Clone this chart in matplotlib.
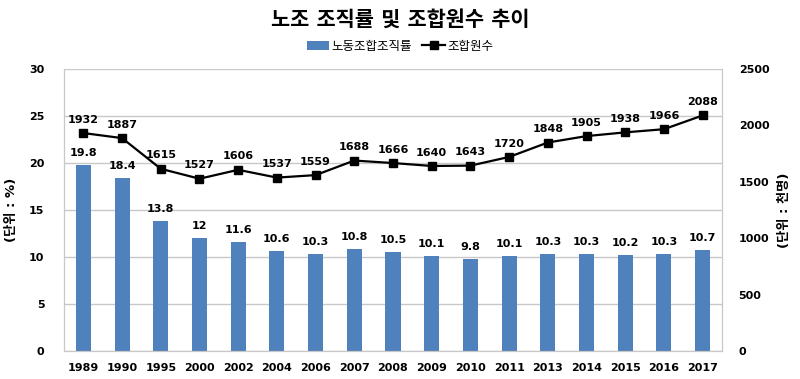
import matplotlib
matplotlib.use("Agg")
from matplotlib import pyplot as plt
import numpy as np

plt.rcParams['font.family'] = ['DejaVu Sans', 'Noto Sans CJK KR']

years = ['1989', '1990', '1995', '2000', '2002', '2004', '2006', '2007', '2008',
         '2009', '2010', '2011', '2013', '2014', '2015', '2016', '2017']
rate = [19.8, 18.4, 13.8, 12, 11.6, 10.6, 10.3, 10.8, 10.5,
        10.1, 9.8, 10.1, 10.3, 10.3, 10.2, 10.3, 10.7]
members = [1932, 1887, 1615, 1527, 1606, 1537, 1559, 1688, 1666,
           1640, 1643, 1720, 1848, 1905, 1938, 1966, 2088]

x = np.arange(len(years))
fig = plt.figure(figsize=(8, 3.79), dpi=100)
ax = fig.add_axes([0.08, 0.074, 0.8225, 0.744])
ax2 = ax.twinx()

bars = ax.bar(x, rate, width=0.39, color='#4F81BD', label='노동조합조직률', zorder=2)
line, = ax2.plot(x, members, color='black', marker='s', markersize=6, linewidth=1.6,
                 label='조합원수', zorder=3)

ax.set_ylim(0, 30)
ax.set_yticks(range(0, 31, 5))
ax2.set_ylim(0, 2500)
ax2.set_yticks(range(0, 2501, 500))
ax.set_xlim(-0.5, len(years) - 0.5)
ax.set_xticks(x)
ax.set_xticklabels(years)

ax.grid(axis='y', color='#c8c8c8', linewidth=1, zorder=0)
ax.set_axisbelow(True)
for a in (ax, ax2):
    for s in ('left', 'right', 'bottom'):
        a.spines[s].set_color('#c8c8c8')
    a.spines['top'].set_visible(False)
    a.tick_params(length=0, labelsize=8, pad=9)
    for lbl in a.get_xticklabels() + a.get_yticklabels():
        lbl.set_fontweight('bold')
ax.tick_params(axis='y', pad=14)
ax2.tick_params(axis='y', pad=12)

for xi, v in zip(x, rate):
    ax.annotate(f'{v:g}', (xi, v), xytext=(0, 5), textcoords='offset points',
                ha='center', va='bottom', fontsize=8, fontweight='bold')
for xi, v in zip(x, members):
    ax2.annotate(str(v), (xi, v), xytext=(0, 6), textcoords='offset points',
                 ha='center', va='bottom', fontsize=8, fontweight='bold')

ax.set_ylabel('(단위 : %)', fontsize=9.5, fontweight='bold', labelpad=8)
ax2.set_ylabel('(단위 : 천명)', fontsize=9.5, fontweight='bold', rotation=90, labelpad=6)

fig.suptitle('노조 조직률 및 조합원수 추이', y=0.975, fontsize=15, fontweight='bold')
fig.legend(handles=[bars, line], loc='center', bbox_to_anchor=(0.5, 0.878), ncol=2,
           frameon=False, fontsize=9, handlelength=1.8, columnspacing=0.8,
           handletextpad=0.2)

fig.savefig('out.png', dpi=100)
